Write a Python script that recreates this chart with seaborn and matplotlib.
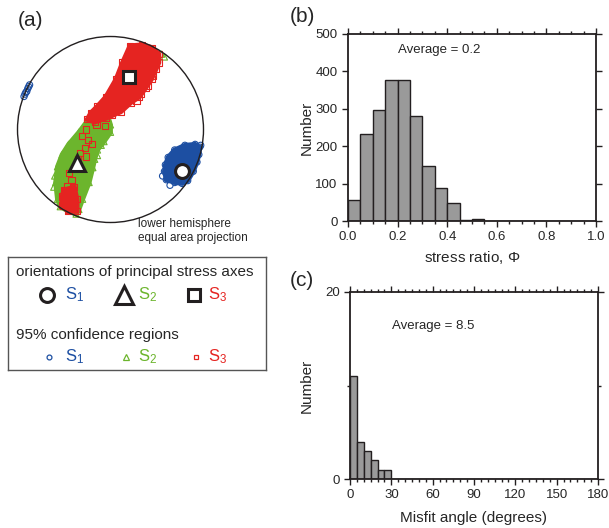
import numpy as np
import pandas as pd
import matplotlib
matplotlib.use('Agg')
import matplotlib.pyplot as plt
import matplotlib.patches as mpatches
import seaborn as sns

# ---- data: stereonet (equal-area plane, unit radius, y up) ----
s1_xy = (0.77, -0.45)
s2_xy = (-0.36, -0.355)
s3_xy = (0.20, 0.56)

# 95% confidence region outlines / samples
s3_band_x = [0.21, 0.13, 0.06, -0.05, -0.14, -0.21, -0.25, -0.17, -0.05, 0.11,
             0.22, 0.31, 0.38, 0.44, 0.49, 0.52, 0.52, 0.45, 0.34]
s3_band_y = [0.90, 0.72, 0.54, 0.35, 0.25, 0.18, 0.11, 0.08, 0.12, 0.19,
             0.29, 0.35, 0.45, 0.54, 0.65, 0.72, 0.81, 0.88, 0.91]
s3_low_x = [-0.50, -0.39, -0.36, -0.36, -0.46, -0.52, -0.52]
s3_low_y = [-0.65, -0.62, -0.75, -0.88, -0.88, -0.81, -0.72]
s3_pts_x = [-0.22, -0.15, -0.06, -0.26, -0.31, -0.24, -0.20, -0.27, -0.33, -0.26,
            -0.35, -0.45, -0.42, -0.47, -0.40, -0.49, -0.44, -0.51, -0.38, -0.45,
            0.33, 0.40, 0.46, 0.28, 0.02]
s3_pts_y = [0.11, 0.05, 0.04, 0.00, -0.07, -0.11, -0.16, -0.20, -0.25, -0.29,
            -0.32, -0.47, -0.54, -0.61, -0.65, -0.72, -0.75, -0.82, -0.79, -0.86,
            0.38, 0.47, 0.58, 0.31, 0.16]

s2_band_x = [-0.17, -0.25, -0.34, -0.45, -0.52, -0.57, -0.59, -0.57, -0.54, -0.45,
             -0.37, -0.34, -0.30, -0.23, -0.19, -0.17, -0.14, -0.07, 0.00, 0.00,
             -0.03, -0.09]
s2_band_y = [0.19, 0.09, -0.03, -0.16, -0.27, -0.40, -0.57, -0.75, -0.83, -0.88,
             -0.91, -0.86, -0.75, -0.57, -0.41, -0.32, -0.22, -0.13, -0.03, 0.05,
             0.15, 0.19]
s2_pts_x = [0.55, 0.58, -0.60, -0.61, -0.47, -0.14, -0.10]
s2_pts_y = [0.81, 0.78, -0.50, -0.62, -0.21, -0.28, -0.17]

s1_blob_x = [0.62, 0.69, 0.80, 0.91, 0.96, 0.95, 0.93, 0.89, 0.83, 0.77,
             0.69, 0.60, 0.58, 0.59]
s1_blob_y = [-0.30, -0.22, -0.17, -0.16, -0.19, -0.27, -0.35, -0.45, -0.55, -0.58,
             -0.57, -0.54, -0.45, -0.38]
s1_pts_x = [-0.93, -0.91, -0.89, -0.87, -0.92, -0.90, -0.88, 0.56, 0.64, 0.97]
s1_pts_y = [0.355, 0.40, 0.44, 0.48, 0.38, 0.41, 0.46, -0.50, -0.60, -0.17]

# ---- data: histograms (bin counts) ----
phi_bin_width = 0.05
phi_counts = [55, 232, 297, 377, 377, 280, 147, 87, 47, 3, 5,
              0, 0, 0, 0, 0, 0, 0, 0, 0]
misfit_bin_width = 5
misfit_counts = [11, 4, 3, 2, 1, 1] + [0] * 30

BLUE = '#1d4fa2'
GREEN = '#6cb52d'
RED = '#e52421'
DARK = '#231f20'
W, H = 609, 528

sns.set_style('ticks')
plt.rcParams['font.family'] = ['Liberation Sans', 'DejaVu Sans']
plt.rcParams['mathtext.fontset'] = 'custom'
plt.rcParams['mathtext.rm'] = 'Liberation Sans'
plt.rcParams['mathtext.it'] = 'Liberation Sans:italic'
plt.rcParams['mathtext.default'] = 'regular'

fig = plt.figure(figsize=(W / 100, H / 100), dpi=100)


def px_axes(x0, y0, x1, y1):
    return fig.add_axes([x0 / W, 1 - y1 / H, (x1 - x0) / W, (y1 - y0) / H])


# ---- (a) stereonet ----
ax = px_axes(10, 29, 211, 230)
lim = 100.5 / 93
ax.set_xlim(-lim, lim)
ax.set_ylim(-lim, lim)
ax.axis('off')


def cloud(xs, ys, col, marker, z):
    sns.scatterplot(x=xs, y=ys, marker=marker, s=20, facecolor='none',
                    edgecolor=col, linewidth=0.8, zorder=z, ax=ax)


def region(xs, ys, col, marker, z):
    ax.fill(xs, ys, color=col, lw=3.5, zorder=z)
    cloud(xs, ys, col, marker, z)


region(s2_band_x, s2_band_y, GREEN, '^', 2)
cloud(s2_pts_x, s2_pts_y, GREEN, '^', 2)
region(s3_band_x, s3_band_y, RED, 's', 3)
region(s3_low_x, s3_low_y, RED, 's', 3)
cloud(s3_pts_x, s3_pts_y, RED, 's', 3)
region(s1_blob_x, s1_blob_y, BLUE, 'o', 3)
cloud(s1_pts_x, s1_pts_y, BLUE, 'o', 3)

ax.plot(*s1_xy, marker='o', ms=10, mfc='white', mec=DARK, mew=2.2, zorder=5)
ax.plot(*s2_xy, marker='^', ms=12, mfc='white', mec=DARK, mew=2.2, zorder=5)
ax.plot(*s3_xy, marker='s', ms=8.5, mfc='white', mec=DARK, mew=2.2, zorder=5)
ax.add_patch(mpatches.Circle((0, 0), 1, fill=False, ec=DARK, lw=1.0, zorder=6))

fig.text(18 / W, 1 - 20 / H, '(a)', fontsize=15, va='center', ha='left')
fig.text(138 / W, 1 - 231 / H, 'lower hemisphere\nequal area projection',
         fontsize=8.5, va='center', ha='left', linespacing=1.15)

# ---- legend box ----
lg = px_axes(8, 257, 266, 370)
lg.set_xlim(0, 258)
lg.set_ylim(113, 0)
lg.set_xticks([])
lg.set_yticks([])
for sp in lg.spines.values():
    sp.set_color('#555555')
    sp.set_linewidth(1.0)
lg.text(8, 15, 'orientations of principal stress axes', fontsize=11, va='center')
lg.text(8, 78, '95% confidence regions', fontsize=11, va='center')
items = [('o', BLUE, 39, 57, 10, 3.5, '1'), ('^', GREEN, 116, 130, 13, 4, '2'),
         ('s', RED, 186, 200, 8.5, 3.5, '3')]
for mk, col, mx, tx, big, small, sub in items:
    lg.plot(mx, 38, marker=mk, ms=big, mfc='white', mec=DARK, mew=2.2)
    lg.plot(mx + 2, 100, marker=mk, ms=small, mfc='white', mec=col, mew=0.9)
    lg.text(tx, 38, 'S$_{%s}$' % sub, color=col, fontsize=12, va='center')
    lg.text(tx, 100, 'S$_{%s}$' % sub, color=col, fontsize=12, va='center')


def style_hist(a):
    for sp in a.spines.values():
        sp.set_linewidth(1.3)
        sp.set_color(DARK)
        sp.set_visible(True)
    a.tick_params(which='both', direction='out', top=True, right=True,
                  color=DARK, labelsize=9.5, width=1.0)
    a.tick_params(which='major', length=4)
    a.tick_params(which='minor', length=2)
    a.set_ylabel('Number', fontsize=11)


def counts_to_obs(counts, width):
    # one value at each bin centre, repeated by its count
    centres = (np.arange(len(counts)) + 0.5) * width
    return pd.DataFrame({'v': np.repeat(centres, counts)})


# ---- (b) stress ratio ----
phi_edges = list(np.arange(len(phi_counts) + 1) * phi_bin_width)
axb = px_axes(348, 34, 596, 221)
sns.histplot(data=counts_to_obs(phi_counts, phi_bin_width), x='v', bins=phi_edges,
             color='#9a9a9a', edgecolor=DARK, linewidth=1.0, alpha=1, ax=axb)
axb.set_xlim(0, 1)
axb.set_ylim(0, 500)
axb.set_xticks(np.arange(0, 1.01, 0.2))
axb.set_xticks(np.arange(0, 1.01, 0.05), minor=True)
axb.set_yticks(np.arange(0, 501, 100))
axb.xaxis.set_major_formatter(matplotlib.ticker.FormatStrFormatter('%.1f'))
style_hist(axb)
axb.set_xlabel('stress ratio, $\\mathit{\\Phi}$', fontsize=11)
axb.xaxis.set_label_coords(0.5, -0.15)
axb.yaxis.set_label_coords(-0.14, 0.5)
axb.text(0.2, 0.915, 'Average = 0.2', transform=axb.transAxes, fontsize=9.5,
         va='center')
fig.text(290 / W, 1 - 17 / H, '(b)', fontsize=15, va='center', ha='left')

# ---- (c) misfit angle ----
misfit_edges = list(np.arange(len(misfit_counts) + 1) * misfit_bin_width)
axc = px_axes(350, 292, 598, 479)
sns.histplot(data=counts_to_obs(misfit_counts, misfit_bin_width), x='v',
             bins=misfit_edges, color='#9a9a9a', edgecolor=DARK, linewidth=1.0,
             alpha=1, ax=axc)
axc.set_xlim(0, 180)
axc.set_ylim(0, 20)
axc.set_xticks(np.arange(0, 181, 30))
axc.set_xticks(np.arange(0, 181, 5), minor=True)
axc.set_yticks([0, 20])
axc.set_yticks([10], minor=True)
style_hist(axc)
axc.set_xlabel('Misfit angle (degrees)', fontsize=11)
axc.xaxis.set_label_coords(0.5, -0.172)
axc.yaxis.set_label_coords(-0.148, 0.5)
axc.text(0.168, 0.82, 'Average = 8.5', transform=axc.transAxes, fontsize=9.5,
         va='center')
fig.text(290 / W, 1 - 281 / H, '(c)', fontsize=15, va='center', ha='left')

fig.savefig('out.png', dpi=100)
